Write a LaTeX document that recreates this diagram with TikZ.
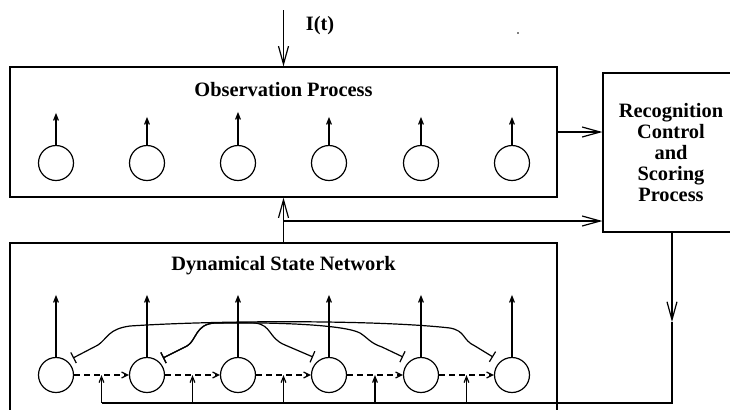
\documentclass[tikz,border=0pt]{standalone}
\usepackage{fontspec}
\setmainfont{Liberation Serif}
\usetikzlibrary{positioning}
\usetikzlibrary{arrows.meta}
\usetikzlibrary{calc}

\begin{document}
\begin{tikzpicture}[x=0.5pt, y=-0.5pt, line width=0.6pt,
  unit/.style={draw, circle, minimum size=17.5pt, inner sep=0pt},
  panel/.style={draw, rectangle, inner sep=0pt},
  title/.style={font=\bfseries\fontsize{10.2}{10.4}\selectfont, align=center},
  bigarrow/.style={-{Straight Barb[length=9pt,width=5pt]}},
  stem/.style={-{Straight Barb[length=3pt,width=2.4pt]}},
  chain/.style={dash pattern=on 3pt off 2pt, -{Straight Barb[length=3pt,width=3pt]}},
  inhib/.style={{Bar[width=6pt]}-{Bar[width=6pt]}}]
\useasboundingbox (0,0) rectangle (730,409);

\node[panel, minimum width=273.5pt, minimum height=65pt] (obs) at (283.5,132) {};
\node[panel, minimum width=273.5pt, minimum height=91pt] (dyn) at (283.5,334) {};
\node[panel, title, minimum width=68pt, minimum height=79.5pt] (recog) at (671,152.5)
  {Recognition\\Control\\and\\Scoring\\Process};

\node[title] (obstitle) at (283.5,90) {Observation Process};
\node[title] (dyntitle) at (283.5,266) {Dynamical State Network};
\node[title] (input) at (320,26) {I(t)};
\coordinate (intop) at (283.5,10);
\fill (518,33) circle[radius=0.4pt];

\node[unit] (obs0) at (56,163) {};
\node[unit] (obs1) at (147,163) {};
\node[unit] (obs2) at (238,163) {};
\node[unit] (obs3) at (329,163) {};
\node[unit] (obs4) at (421,163) {};
\node[unit] (obs5) at (512,163) {};

\node[unit] (dyn0) at (56,375) {};
\node[unit] (dyn1) at (147,375) {};
\node[unit] (dyn2) at (238,375) {};
\node[unit] (dyn3) at (329,375) {};
\node[unit] (dyn4) at (421,375) {};
\node[unit] (dyn5) at (512,375) {};

\draw[stem] (obs0.north) -- ++(0,-32);
\draw[stem] (obs1.north) -- ++(0,-28);
\draw[stem] (obs2.north) -- ++(0,-33);
\draw[stem] (obs3.north) -- ++(0,-28);
\draw[stem] (obs4.north) -- ++(0,-28);
\draw[stem] (obs5.north) -- ++(0,-28);

\draw[stem] (dyn0.north) -- ++(0,-62);
\draw[stem] (dyn1.north) -- ++(0,-62);
\draw[stem] (dyn2.north) -- ++(0,-62);
\draw[stem] (dyn3.north) -- ++(0,-62);
\draw[stem] (dyn4.north) -- ++(0,-62);
\draw[stem] (dyn5.north) -- ++(0,-62);

\draw[chain] (dyn0) -- (dyn1);
\draw[chain] (dyn1) -- (dyn2);
\draw[chain] (dyn2) -- (dyn3);
\draw[chain] (dyn3) -- (dyn4);
\draw[chain] (dyn4) -- (dyn5);

\coordinate (m0) at ($(dyn0)!.5!(dyn1)$);
\coordinate (m1) at ($(dyn1)!.5!(dyn2)$);
\coordinate (m2) at ($(dyn2)!.5!(dyn3)$);
\coordinate (m3) at ($(dyn3)!.5!(dyn4)$);
\coordinate (m4) at ($(dyn4)!.5!(dyn5)$);

% lateral links
\draw[inhib] (73,358) -- (98,345) .. controls (108,338) and (108,329) .. (130,326)
  .. controls (220,320) and (380,320) .. (450,328)
  .. controls (466,331) and (462,340) .. (475,346) -- (493,357);
\draw[inhib] (163,358) -- (187,346) .. controls (197,340) and (195,324) .. (215,323)
  -- (255,323) .. controls (272,325) and (268,338) .. (285,345) -- (313,357);
\draw[inhib] (163,358) -- (187,346) .. controls (197,340) and (195,324) .. (215,323)
  .. controls (280,322) and (345,325) .. (360,333)
  .. controls (368,338) and (370,343) .. (382,347) -- (403,357);

\draw[bigarrow] (intop) -- (obs.north);
\draw[bigarrow] (obs.east) -- (obs.east -| recog.west);
\draw[bigarrow] (dyn.north) -- (obs.south);
\coordinate (branch) at (283.5,221);
\draw[bigarrow] (branch) -- (branch -| recog.west);

\coordinate (fbtip) at (672,322);
\coordinate (fbend) at (672,403);
\draw[bigarrow] (recog.south -| fbend) -- (fbtip);
\draw (fbtip) -- (fbend) -- (fbend -| m0);
\draw[stem] (m0 |- fbend) -- (m0);
\draw[stem] (m1 |- fbend) -- (m1);
\draw[stem] (m2 |- fbend) -- (m2);
\draw[stem] (m3 |- fbend) -- (m3);
\draw[stem] (m4 |- fbend) -- (m4);
\end{tikzpicture}
\end{document}
